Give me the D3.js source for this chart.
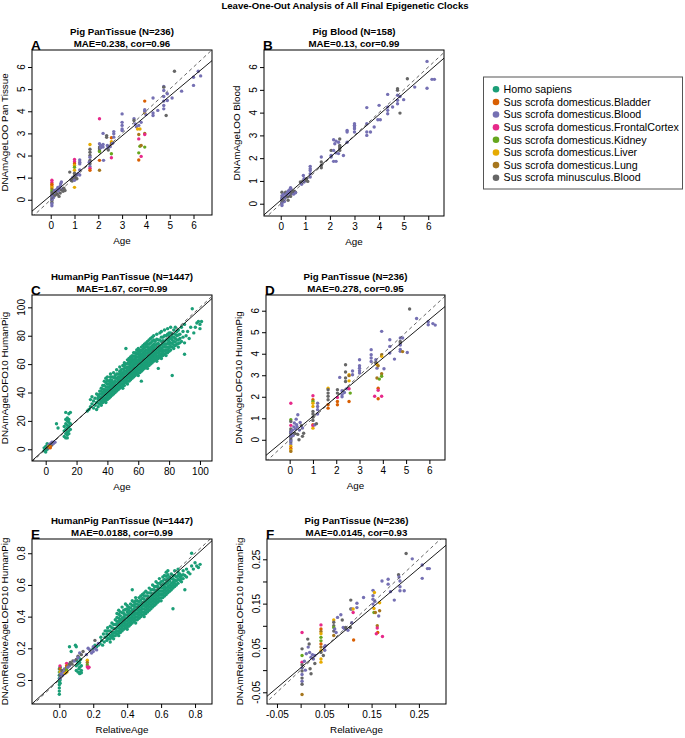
<!DOCTYPE html>
<html><head><meta charset="utf-8">
<script src="https://cdn.jsdelivr.net/npm/d3@7"></script>
<style>
body{margin:0;background:#fff}
svg{display:block}
text{font-family:"Liberation Sans",Arial,Helvetica,sans-serif;fill:#000}
</style>
</head><body>
<svg id="chart" width="685" height="738"></svg>
<script>
// ---------- categories & colours ----------
const categories = ["Homo sapiens","Sus scrofa domesticus.Bladder","Sus scrofa domesticus.Blood",
  "Sus scrofa domesticus.FrontalCortex","Sus scrofa domesticus.Kidney","Sus scrofa domesticus.Liver",
  "Sus scrofa domesticus.Lung","Sus scrofa minusculus.Blood"];
const colors = ["#1B9E77","#D95F02","#7570B3","#E7298A","#66A61E","#E6AB02","#A6761D","#666666"];

// ---------- data: [age, prediction, categoryIndex] ----------
const pointsA = [
[0.05,0.88,3],[0.05,0.78,3],[0.05,0.70,1],[0.05,0.62,1],[0.05,0.55,5],[0.05,0.48,6],[0.05,0.40,4],[0.05,0.32,7],[0.05,0.22,7],[0.05,0.14,7],[0.05,0.05,7],[0.05,-0.04,7],[0.05,-0.12,7],[0.05,0.18,2],[0.05,0.02,2],[0.05,-0.18,2],[0.05,-0.27,2],
[0.12,0.10,2],[0.12,0.28,7],[0.15,0.42,2],[0.18,0.2,7],[0.2,0.32,2],[0.22,0.35,7],[0.25,0.46,2],[0.28,0.25,7],[0.3,0.55,2],[0.32,0.40,2],[0.35,0.50,2],[0.35,0.15,7],[0.4,0.62,2],[0.4,0.30,7],[0.42,0.72,2],[0.45,0.80,2],[0.45,0.45,7],[0.5,0.5,2],[0.52,0.38,7],[0.55,0.52,7],[0.6,0.42,7],
[0.8,1.25,7],[0.85,0.9,7],[0.9,0.85,7],[0.92,1.0,2],[0.95,0.95,7],[1.0,1.82,3],[1.0,1.72,3],[1.0,1.63,1],[1.0,1.55,5],[1.0,1.47,4],[1.0,1.33,5],[1.0,1.2,7],[1.0,1.1,7],[1.0,0.88,2],[1.0,0.56,5],[1.05,1.0,7],[1.1,1.12,2],[1.1,0.95,7],[1.15,1.18,2],[1.22,1.8,2],[1.22,1.7,2],[1.22,1.62,2],[1.22,1.35,2],[1.22,1.12,2],
[1.65,2.5,5],[1.65,2.28,7],[1.65,2.15,7],[1.65,2.0,7],[1.65,1.78,7],[1.65,1.63,7],[1.65,1.5,2],[1.65,1.42,3],[1.65,1.33,1],[1.65,1.92,2],[1.62,1.7,2],
[2.05,3.66,3],[2.05,2.53,2],[2.05,2.38,7],[2.05,2.3,7],[2.05,2.22,7],[2.05,2.18,4],[2.05,1.78,1],[2.05,1.33,6],[2.1,2.45,2],[2.1,2.35,2],
[2.2,3.0,2],[2.2,2.5,2],[2.2,2.38,2],[2.22,1.78,2],[2.35,2.9,7],[2.35,2.82,7],[2.38,2.45,2],[2.4,2.33,2],[2.42,2.25,7],[2.5,2.4,2],[2.55,2.8,1],[2.55,2.62,5],[2.55,2.53,6],[2.55,2.08,4],[2.55,1.9,3],[2.6,2.55,2],[2.65,3.08,2],[2.65,2.98,2],[2.65,2.83,2],
[3.0,3.88,2],[3.0,3.5,2],[3.0,3.36,2],[3.0,3.2,2],[3.0,3.13,2],
[3.5,3.66,2],[3.5,3.58,7],[3.55,3.43,2],[3.6,3.3,2],[3.65,3.2,5],[3.75,3.2,5],[3.7,3.36,2],[3.7,2.95,6],[3.7,2.75,3],[3.75,2.42,4],[3.7,2.12,4],[3.7,1.8,1],[3.8,1.96,3],[3.8,2.45,6],[3.8,3.5,2],
[3.95,4.46,1],[3.95,3.92,5],[3.95,3.0,6],[3.95,2.95,3],[3.95,2.38,4],[3.95,4.07,2],[3.95,4.0,2],[4.0,3.85,2],
[4.3,4.6,2],[4.3,3.92,2],[4.3,3.81,2],[4.5,4.04,2],[4.75,5.12,2],[4.75,5.09,7],[4.75,4.94,2],[4.75,4.67,2],[4.75,4.46,2],[4.75,4.26,2],[4.75,4.11,2],[4.85,3.81,7],[4.9,4.49,2],[4.9,4.79,2],[5.1,4.6,2],[5.2,5.81,7],[5.5,4.91,2],[6.0,5.54,2],[6.0,5.17,2],[6.2,5.81,2],[6.3,5.6,2]
];

const pointsB = [
[0.05,0.5,7],[0.05,0.35,2],[0.05,0.25,7],[0.05,0.2,2],[0.05,0.12,2],[0.05,0.05,7],[0.05,0.0,2],[0.05,-0.08,2],[0.08,0.15,7],[0.1,0.3,2],[0.12,0.42,2],[0.15,0.1,2],[0.18,0.25,2],[0.2,0.5,7],[0.22,0.35,2],[0.25,0.45,2],[0.28,0.3,7],[0.3,0.55,2],[0.3,0.15,7],[0.35,0.6,2],[0.35,0.4,2],[0.38,0.5,2],[0.4,0.7,2],[0.4,0.32,7],[0.42,0.65,2],[0.45,0.45,7],[0.5,0.52,7],[0.52,0.42,2],[0.55,0.55,7],[0.6,0.5,7],[0.6,0.48,2],
[0.8,0.95,7],[0.85,0.85,2],[0.9,1.0,7],[0.92,1.24,2],[0.95,1.1,2],[0.95,0.95,2],[1.0,1.02,2],[1.05,1.02,7],[1.05,1.1,7],[1.1,0.98,7],[1.2,1.64,2],[1.2,1.54,2],[1.2,1.46,2],[1.2,1.32,2],[1.2,1.17,2],
[1.65,2.05,2],[1.65,1.83,7],[1.65,1.68,7],[1.65,1.58,7],[2.05,2.34,7],[2.05,2.12,2],[2.05,2.05,2],[2.15,2.81,2],[2.25,2.75,2],[2.2,2.63,2],[2.15,2.34,2],[2.25,2.23,2],[2.15,1.86,2],[2.25,1.86,2],[2.4,2.84,7],[2.4,2.56,7],[2.4,2.49,7],[2.4,2.42,7],[2.4,2.34,7],[2.35,2.7,2],[2.35,2.2,2],[2.55,2.12,2],[2.7,3.22,2],[2.7,3.15,2],[2.7,2.7,2],
[3.0,3.51,2],[3.0,3.44,2],[3.0,3.37,2],[3.0,3.29,2],[3.0,3.15,2],[3.5,4.22,2],[3.5,3.51,2],[3.5,3.15,2],[3.5,3.0,2],[3.65,3.15,2],[3.8,3.37,2],[4.0,4.32,2],[3.95,3.69,2],[4.05,3.69,2],[4.35,4.8,2],[4.35,4.25,2],[4.35,4.1,2],[4.35,3.95,2],[4.55,4.25,2],[4.75,5.05,7],[4.75,4.98,7],[4.75,4.76,2],[4.75,4.54,2],[4.75,4.39,2],[4.85,3.98,7],[4.85,4.71,2],[5.0,4.57,2],[5.15,5.49,7],[5.45,5.12,2],[5.95,6.25,2],[5.95,5.07,2],[6.15,5.46,2],[6.25,5.46,2]
];

const humanC = [
[-1,1],[0,-1],[0,0],[0,1],[0,2],[1,0],[1,2],[1,3],[1,4],[2,1],[2,3],[-1,-1],[0,-2],
[7,18],[8,15],[12,9],[12,13],[12,16],[13,11],[13,14],[13,18],[13,21],[14,10],[14,12],[14,15],[14,17],[14,20],[14,22],[15,11],[15,13],[15,16],[15,19],[15,21],[15,25],[16,26],[16,18],[16,14],[13,8],[14,8],[13,26],
[27,27],[28,28],[29,30],[29,35],[30,37],[30,32],[31,29],[31,34],[32,31],[32,36],[33,28],[33,33],[33,39],
[34,30],[34,35],[34,38],[35,32],[35,37],[35,41],[36,31],[36,34],[36,39],[36,43],
[37,33],[37,36],[37,40],[37,45],[38,34],[38,38],[38,42],[38,48],[39,33],[39,36],[39,40],[39,44],[39,50],
[40,35],[40,38],[40,42],[40,46],[40,51],[41,36],[41,40],[41,44],[41,48],[42,37],[42,41],[42,45],[42,49],[42,53],
[43,38],[43,42],[43,46],[43,51],[44,39],[44,43],[44,47],[44,54],[45,40],[45,44],[45,48],[45,52],
[46,41],[46,45],[46,50],[46,56],[47,42],[47,46],[47,49],[47,53],[48,43],[48,47],[48,51],[48,55],[48,58],
[49,44],[49,48],[49,52],[49,56],[50,43],[50,46],[50,50],[50,54],[50,59],[51,45],[51,49],[51,53],[51,57],[51,61],
[52,71],[52,47],[52,51],[52,55],[52,60],[53,46],[53,50],[53,54],[53,58],[53,63],[54,48],[54,52],[54,56],[54,60],[54,64],
[55,49],[55,53],[55,57],[55,61],[55,65],[56,50],[56,54],[56,58],[56,62],[56,66],[57,51],[57,55],[57,59],[57,63],[57,68],
[58,52],[58,56],[58,60],[58,64],[58,68],[59,53],[59,57],[59,61],[59,65],[59,70],[60,52],[60,56],[60,60],[60,63],[60,67],[60,71],
[61,54],[61,58],[61,62],[61,66],[61,70],[62,48],[62,55],[62,59],[62,63],[62,67],[62,72],[63,56],[63,60],[63,64],[63,68],[63,73],
[64,57],[64,61],[64,65],[64,69],[64,74],[65,58],[65,62],[65,66],[65,70],[65,75],[66,57],[66,61],[66,64],[66,68],[66,72],[66,76],
[67,59],[67,63],[67,67],[67,71],[67,77],[68,60],[68,64],[68,68],[68,72],[68,78],[69,61],[69,65],[69,69],[69,73],[69,79],
[70,62],[70,66],[70,70],[70,74],[70,80],[71,63],[71,67],[71,71],[71,76],[72,62],[72,66],[72,70],[72,74],[72,81],
[73,57],[73,64],[73,68],[73,72],[73,77],[74,65],[74,69],[74,73],[74,82],[75,64],[75,67],[75,71],[75,76],[75,83],
[76,66],[76,70],[76,74],[76,79],[77,67],[77,72],[77,76],[77,84],[78,66],[78,70],[78,74],[78,80],
[79,68],[79,72],[79,77],[79,85],[80,69],[80,74],[80,78],[80,82],[81,70],[81,75],[81,86],
[82,52],[82,72],[82,77],[82,81],[83,71],[83,76],[83,84],[84,73],[84,78],[84,86],
[85,74],[85,80],[86,72],[86,77],[86,84],[87,75],[87,81],
[88,76],[88,86],[89,79],[89,83],[90,67],[90,75],[90,88],
[91,80],[92,83],[93,78],[94,86],[95,99],[96,82],[97,86],[98,89],[99,90],[100,88],[101,90],[100,85],
// denser core of the cloud
[34,32.5],[34,36.5],[35,34.5],[35,39],[36,32.5],[36,36.5],[36,41],[37,34.5],[37,38],[37,42.5],[38,36],[38,40],[38,45],
[39,34.5],[39,38],[39,42],[39,47],[40,36.5],[40,40],[40,44],[40,48.5],[41,38],[41,42],[41,46],[42,39],[42,43],[42,47],[42,51],
[43,40],[43,44],[43,48.5],[44,41],[44,45],[44,50.5],[45,42],[45,46],[45,50],[46,43],[46,47.5],[46,53],[47,44],[47,47.5],[47,51],
[48,45],[48,49],[48,53],[49,46],[49,50],[49,54],[50,44.5],[50,48],[50,52],[50,56.5],[51,47],[51,51],[51,55],[51,59],
[52,49],[52,53],[52,57.5],[53,48],[53,52],[53,56],[53,60.5],[54,50],[54,54],[54,58],[54,62],[55,51],[55,55],[55,59],[55,63],
[56,52],[56,56],[56,60],[56,64],[57,53],[57,57],[57,61],[57,65.5],[58,54],[58,58],[58,62],[58,66],[59,55],[59,59],[59,63],[59,67.5],
[60,54],[60,58],[60,61.5],[60,65],[60,69],[61,56],[61,60],[61,64],[61,68],[62,57],[62,61],[62,65],[62,69.5],[63,58],[63,62],[63,66],[63,70.5],
[64,59],[64,63],[64,67],[64,71.5],[65,60],[65,64],[65,68],[65,72.5],[66,59],[66,62.5],[66,66],[66,70],[66,74],[67,61],[67,65],[67,69],[67,74],
[68,62],[68,66],[68,70],[68,75],[69,63],[69,67],[69,71],[69,76],[70,64],[70,68],[70,72],[70,77],[71,65],[71,69],[71,73.5],
[72,64],[72,68],[72,72],[72,77.5],[73,66],[73,70],[73,74.5],[74,67],[74,71],[74,77],[75,65.5],[75,69],[75,73.5],[75,79],
[76,68],[76,72],[76,76.5],[77,69.5],[77,74],[77,80],[78,68],[78,72],[78,77],[79,70],[79,74.5],[79,81],[80,71.5],[80,76],[80,80],
[81,72.5],[81,78],[81,82],[82,74.5],[82,79],[83,73.5],[83,79],[84,75.5],[84,81],[85,77],[85,83],[86,74.5],[86,80.5],[87,78]
];
const pigC = [[2,3,2],[3,3,2],[4,4,2],[5,5,2],[4,3,7],[3,2,1],[2,1,3],[1,1,7],[5,4,2],[3,4,2],[6,5,2],[2,2,5],[4,5,2],[3,1,1]];

const pointsD = [
[0.05,1.7,3],[0.05,0.93,4],[0.05,0.85,7],[0.05,0.67,3],[0.05,0.5,7],[0.05,0.4,7],[0.05,0.3,7],[0.05,0.2,7],[0.05,0.1,7],[0.05,0.0,7],[0.05,-0.1,7],[0.05,0.35,2],[0.05,0.15,2],[0.05,-0.05,2],[0.05,-0.2,2],[0.05,-0.3,5],[0.05,-0.4,1],[0.05,-0.47,5],[0.05,-0.54,6],
[0.12,0.45,2],[0.15,0.2,2],[0.18,0.6,2],[0.2,0.78,2],[0.22,0.3,7],[0.25,0.5,2],[0.28,0.96,2],[0.3,0.7,2],[0.32,0.6,2],[0.35,1.16,2],[0.35,0.25,7],[0.4,0.0,7],[0.42,0.45,2],[0.45,0.8,2],[0.5,0.65,7],[0.55,0.16,7],[0.55,0.55,2],[0.6,0.3,7],
[1.0,2.05,3],[1.0,1.86,1],[1.0,1.78,4],[1.0,1.7,5],[1.0,1.55,5],[1.0,1.32,7],[1.0,1.2,7],[1.0,1.05,7],[1.0,0.9,7],[1.0,0.7,1],[1.0,0.65,3],[1.0,0.54,5],[1.08,0.7,2],[1.15,0.75,7],[1.2,1.7,2],[1.2,1.55,2],[1.2,1.4,2],[1.2,1.2,2],
[1.65,2.4,5],[1.65,2.33,7],[1.65,2.17,7],[1.65,2.02,7],[1.65,1.86,7],[1.65,1.63,1],[1.65,1.47,1],
[2.05,2.33,7],[2.05,2.17,7],[2.05,1.97,3],[2.05,1.78,1],[2.05,1.63,1],[2.15,2.9,2],[2.25,2.28,2],[2.25,2.1,2],[2.25,2.0,2],[2.35,2.2,2],[2.4,3.49,7],[2.4,3.15,7],[2.4,2.87,7],[2.4,2.71,7],[2.45,2.37,2],[2.55,3.02,5],[2.55,2.98,6],[2.55,2.74,5],[2.55,2.37,3],[2.6,2.17,4],[2.55,1.78,1],[2.7,3.2,2],[2.7,3.02,2],
[3.0,3.72,2],[3.0,3.44,2],[3.0,3.33,2],[3.0,3.21,2],[3.0,3.1,2],
[3.5,4.19,2],[3.5,3.95,2],[3.5,3.8,2],[3.5,3.64,2],[3.7,3.72,2],[3.7,3.57,2],[3.75,3.33,2],[3.75,3.5,5],[3.8,3.44,6],[3.7,3.6,7],[3.75,2.87,6],[3.85,2.82,4],[3.8,2.4,1],[3.8,2.3,3],[3.65,2.02,3],[3.8,1.91,1],[3.95,2.02,3],[3.95,3.95,6],[3.95,3.88,5],[3.95,3.07,6],[3.95,2.95,4],[3.95,5.04,2],[4.05,3.3,2],
[4.3,4.65,2],[4.3,4.34,2],[4.3,4.03,2],[4.5,3.75,2],[4.75,4.57,7],[4.75,4.5,7],[4.75,4.73,2],[4.75,4.4,2],[4.75,4.2,2],[4.75,4.11,2],[4.85,4.73,2],[4.85,4.1,6],[5.05,4.06,2],[5.15,6.08,7],[5.45,5.64,2],[5.95,5.49,2],[5.95,5.35,2],[6.15,5.4,2],[6.25,5.33,2]
];

const humanE = [
[0,-.09],[0,-.07],[0,-.05],[0,-.03],[0,-.01],[0,.01],[0,.03],[0,.05],[0,.07],[.005,.08],[.005,0],[.005,-.02],[.008,.04],
[.06,.21],[.07,.18],[.095,.22],[.1,.21],[.1,.06],[.1,.09],[.105,.12],[.11,.05],[.11,.1],[.115,.14],[.115,.07],[.12,.04],[.12,.08],[.12,.11],[.125,.05],[.125,.13],[.13,.06],[.13,.09],[.13,.045],[.2,.2],[.21,.22],[.22,.21],[.23,.22],
[.24,.23],[.245,.27],[.25,.25],[.255,.22],[.26,.29],[.265,.24],[.27,.27],[.27,.31],
[.28,.25],[.28,.29],[.285,.33],[.29,.26],[.29,.31],[.3,.24],[.3,.28],[.3,.34],[.31,.27],[.31,.3],[.31,.36],
[.32,.26],[.32,.3],[.32,.35],[.33,.28],[.33,.32],[.33,.38],[.34,.29],[.34,.33],[.34,.37],[.34,.42],[.35,.28],[.35,.31],[.35,.35],[.35,.39],[.35,.44],
[.36,.3],[.36,.34],[.36,.38],[.36,.43],[.37,.31],[.37,.35],[.37,.39],[.37,.46],[.38,.32],[.38,.36],[.38,.4],[.38,.44],[.39,.33],[.39,.37],[.39,.41],[.39,.48],
[.4,.32],[.4,.35],[.4,.39],[.4,.43],[.4,.47],[.41,.34],[.41,.38],[.41,.42],[.41,.46],[.42,.35],[.42,.39],[.42,.43],[.42,.48],[.43,.36],[.43,.4],[.43,.44],[.43,.57],[.43,.5],
[.44,.37],[.44,.41],[.44,.45],[.44,.49],[.45,.36],[.45,.4],[.45,.44],[.45,.48],[.45,.52],[.46,.38],[.46,.42],[.46,.46],[.46,.5],[.47,.39],[.47,.43],[.47,.47],[.47,.52],
[.48,.4],[.48,.44],[.48,.48],[.48,.53],[.49,.41],[.49,.45],[.49,.49],[.49,.54],[.5,.4],[.5,.43],[.5,.47],[.5,.51],[.5,.55],[.51,.42],[.51,.46],[.51,.5],[.51,.56],
[.52,.43],[.52,.47],[.52,.51],[.52,.55],[.53,.44],[.53,.48],[.53,.52],[.53,.58],[.54,.45],[.54,.49],[.54,.53],[.54,.57],[.55,.46],[.55,.5],[.55,.54],[.55,.6],
[.56,.47],[.56,.51],[.56,.55],[.56,.59],[.57,.48],[.57,.52],[.57,.56],[.57,.62],[.58,.49],[.58,.53],[.58,.57],[.58,.61],[.59,.5],[.59,.54],[.59,.58],[.59,.64],
[.6,.5],[.6,.54],[.6,.58],[.6,.62],[.61,.52],[.61,.56],[.61,.6],[.61,.65],[.62,.53],[.62,.57],[.62,.61],[.62,.66],[.63,.54],[.63,.58],[.63,.63],[.63,.68],
[.64,.55],[.64,.59],[.64,.64],[.64,.69],[.65,.56],[.65,.6],[.65,.65],[.66,.57],[.66,.61],[.66,.67],[.67,.45],[.67,.58],[.67,.62],[.67,.66],
[.68,.59],[.68,.63],[.68,.69],[.69,.6],[.69,.65],[.7,.61],[.7,.66],[.7,.7],[.71,.63],[.71,.67],
[.72,.62],[.72,.66],[.73,.64],[.73,.69],[.74,.57],[.74,.66],[.75,.65],[.75,.7],[.76,.68],
[.77,.67],[.78,.8],[.78,.72],[.79,.7],[.8,.74],[.81,.72],[.82,.71],[.83,.73],
// denser core of the cloud
[.28,.27],[.28,.31],[.29,.285],[.3,.26],[.3,.31],[.31,.285],[.31,.33],[.32,.28],[.32,.325],[.33,.3],[.33,.35],[.34,.31],[.34,.35],[.34,.395],
[.35,.295],[.35,.33],[.35,.37],[.35,.415],[.36,.32],[.36,.36],[.36,.405],[.37,.33],[.37,.37],[.37,.425],[.38,.34],[.38,.38],[.38,.42],[.39,.35],[.39,.39],[.39,.445],
[.4,.335],[.4,.37],[.4,.41],[.4,.45],[.41,.36],[.41,.4],[.41,.44],[.42,.37],[.42,.41],[.42,.455],[.43,.38],[.43,.42],[.43,.47],[.44,.39],[.44,.43],[.44,.47],
[.45,.38],[.45,.42],[.45,.46],[.45,.5],[.46,.4],[.46,.44],[.46,.48],[.47,.41],[.47,.45],[.47,.495],[.48,.42],[.48,.46],[.48,.505],[.49,.43],[.49,.47],[.49,.515],
[.5,.415],[.5,.45],[.5,.49],[.5,.53],[.51,.44],[.51,.48],[.51,.53],[.52,.45],[.52,.49],[.52,.53],[.53,.46],[.53,.5],[.53,.55],[.54,.47],[.54,.51],[.54,.55],
[.55,.48],[.55,.52],[.55,.57],[.56,.49],[.56,.53],[.56,.57],[.57,.5],[.57,.54],[.57,.59],[.58,.51],[.58,.55],[.58,.59],[.59,.52],[.59,.56],[.59,.61],
[.6,.52],[.6,.56],[.6,.6],[.61,.54],[.61,.58],[.61,.625],[.62,.55],[.62,.59],[.62,.635],[.63,.56],[.63,.605],[.63,.655],[.64,.57],[.64,.615],[.64,.665],
[.65,.58],[.65,.625],[.66,.59],[.66,.64],[.67,.6],[.67,.64],[.68,.61],[.68,.66],[.69,.625],[.7,.635],[.7,.68],[.71,.65],[.72,.64],[.73,.665]
];
const pigE = [
[.004,.089,3],[.004,.07,1],[.004,.05,5],[.004,.03,7],[.004,.01,2],[.01,.04,2],[.015,.06,7],[.02,.03,2],[.025,.05,2],[.03,.07,2],[.035,.042,5],[.04,.06,7],[.043,.105,3],[.043,.09,1],[.043,.08,6],[.043,.065,4],[.045,.05,5],[.05,.08,2],[.06,.09,2],[.06,.1,7],[.065,.11,7],[.075,.1,7],[.08,.12,7],[.09,.12,2],[.1,.13,7],[.11,.15,7],[.11,.14,2],[.12,.17,2],[.13,.16,7],[.14,.18,7],[.16,.16,2],[.165,.125,5],[.165,.11,6],[.165,.095,4],[.165,.083,3],[.17,.075,3],[.175,.08,3],[.17,.2,2],[.18,.19,2],[.19,.17,2],[.2,.21,2],[.2,.18,2],[.21,.25,7],[.21,.2,2],[.22,.19,2],[.23,.23,2]
];

const pointsF = [
[0.003,0.085,3],[0.003,0.048,7],[0.003,0.033,4],[0.003,0.018,3],[0.003,0.012,7],[0.003,0.005,2],[0.003,-0.002,7],[0.003,-0.01,2],[0.003,-0.018,7],[0.003,-0.025,2],[0.003,-0.032,7],[0.003,-0.055,6],
[0.008,0.02,2],[0.01,0.0,2],[0.012,0.037,2],[0.015,0.07,7],[0.016,0.052,2],[0.018,0.059,7],[0.019,0.04,2],[0.02,0.003,7],[0.022,0.029,2],[0.022,-0.008,7],[0.025,0.035,2],[0.027,0.025,2],[0.03,0.015,7],[0.03,0.033,2],
[0.043,0.102,3],[0.043,0.093,1],[0.043,0.087,6],[0.043,0.082,5],[0.043,0.074,4],[0.043,0.066,4],[0.043,0.059,1],[0.043,0.052,6],[0.043,0.044,5],[0.043,0.04,7],[0.043,0.025,5],[0.043,0.018,5],[0.05,0.052,2],[0.051,0.045,2],[0.052,0.055,2],[0.048,0.033,7],
[0.07,0.113,5],[0.07,0.108,7],[0.07,0.1,7],[0.07,0.096,4],[0.07,0.088,7],[0.07,0.078,6],[0.072,0.093,2],[0.075,0.085,2],[0.078,0.119,2],[0.085,0.125,2],[0.088,0.113,7],[0.09,0.096,2],[0.093,0.093,2],[0.095,0.096,7],[0.1,0.09,2],
[0.106,0.158,7],[0.106,0.138,7],[0.108,0.138,2],[0.111,0.138,5],[0.111,0.13,3],[0.112,0.068,1],[0.108,0.107,2],[0.105,0.096,7],
[0.119,0.151,2],[0.119,0.141,2],[0.133,0.164,2],[0.153,0.18,2],[0.153,0.168,2],[0.153,0.16,2],[0.153,0.149,2],[0.156,0.175,5],[0.155,0.139,5],[0.155,0.13,4],[0.158,0.13,6],[0.157,0.155,2],
[0.162,0.1,6],[0.162,0.095,3],[0.163,0.085,1],[0.16,0.082,3],[0.173,0.076,3],[0.167,0.152,5],[0.167,0.134,6],[0.165,0.122,2],[0.172,0.201,2],[0.185,0.205,2],[0.185,0.194,2],[0.19,0.177,2],[0.198,0.158,2],[0.207,0.215,7],[0.208,0.21,2],[0.21,0.201,2],[0.21,0.188,2],[0.21,0.179,2],[0.219,0.179,2],[0.223,0.263,7],[0.236,0.251,2],[0.257,0.237,2],[0.257,0.207,2],[0.268,0.229,2],[0.272,0.229,2]
];

// tick values & labels
const ticksAge = [0,1,2,3,4,5,6];
const ticksAgeLabels = ["0","1","2","3","4","5","6"];
const ticksHuman = [0,20,40,60,80,100];
const ticksHumanLabels = ["0","20","40","60","80","100"];
const ticksRel = [0,0.2,0.4,0.6,0.8];
const ticksRelLabels = ["0.0","0.2","0.4","0.6","0.8"];
const ticksRelPig = [-0.05,0,0.05,0.1,0.15,0.2,0.25];
const ticksRelPigLabels = ["-0.05","","0.05","","0.15","","0.25"];

// fitted regression lines [intercept, slope]
const fitA = [0.19,0.90], fitB = [0.15,0.94], fitC = [0.6,0.98], fitD = [0.19,0.90], fitE = [0.006,0.97], fitF = [0.005,0.90];

// ---------- layout ----------
const panels = [
 {id:"A", title:"Pig PanTissue (N=236)", stats:"MAE=0.238, cor=0.96", xlab:"Age", ylab:"DNAmAgeLOO Pan Tissue",
  box:[32,50,212,215], xdom:[-0.786,6.777], ydom:[-0.69,6.77], xt:ticksAge, xtl:ticksAgeLabels, yt:ticksAge, ytl:ticksAgeLabels, fit:fitA, pts:pointsA},
 {id:"B", title:"Pig Blood (N=158)", stats:"MAE=0.13, cor=0.99", xlab:"Age", ylab:"DNAmAgeLOO Blood",
  box:[264,50,444,216], xdom:[-0.68,6.64], ydom:[-0.54,6.75], xt:ticksAge, xtl:ticksAgeLabels, yt:ticksAge, ytl:ticksAgeLabels, fit:fitB, pts:pointsB},
 {id:"C", title:"HumanPig PanTissue (N=1447)", stats:"MAE=1.67, cor=0.99", xlab:"Age", ylab:"DNAmAgeLOFO10 HumanPig",
  box:[32,295,212,461], xdom:[-8.88,107.8], ydom:[-8.26,108.7], xt:ticksHuman, xtl:ticksHumanLabels, yt:ticksHuman, ytl:ticksHumanLabels, fit:fitC,
  pts:humanC.map(d=>[d[0],d[1],0]).concat(pigC)},
 {id:"D", title:"Pig PanTissue (N=236)", stats:"MAE=0.278, cor=0.95", xlab:"Age", ylab:"DNAmAgeLOFO10 HumanPig",
  box:[266,295,445,460], xdom:[-1.016,6.67], ydom:[-0.94,6.73], xt:ticksAge, xtl:ticksAgeLabels, yt:ticksAge, ytl:ticksAgeLabels, fit:fitD, pts:pointsD},
 {id:"E", title:"HumanPig PanTissue (N=1447)", stats:"MAE=0.0188, cor=0.99", xlab:"RelativeAge", ylab:"DNAmRelativeAgeLOFO10 HumanPig",
  box:[32,539,212,704], xdom:[-0.161,0.9], ydom:[-0.1515,0.89], xt:ticksRel, xtl:ticksRelLabels, yt:ticksRel, ytl:ticksRelLabels, fit:fitE,
  pts:humanE.map(d=>[d[0],d[1],0]).concat(pigE)},
 {id:"F", title:"Pig PanTissue (N=236)", stats:"MAE=0.0145, cor=0.93", xlab:"RelativeAge", ylab:"DNAmRelativeAgeLOFO10 HumanPig",
  box:[267,539,446,704], xdom:[-0.0711,0.3073], ydom:[-0.0764,0.2958], xt:ticksRelPig, xtl:ticksRelPigLabels, yt:ticksRelPig, ytl:ticksRelPigLabels, fit:fitF, pts:pointsF}
];

const svg = d3.select("#chart");
svg.append("rect").attr("width",685).attr("height",738).attr("fill","#fff");
svg.append("text").attr("x",345).attr("y",9).attr("text-anchor","middle")
  .attr("font-size",9.6).attr("font-weight","bold").text("Leave-One-Out Analysis of All Final Epigenetic Clocks");

const defs = svg.append("defs");

panels.forEach(p=>{
  const [x0,y0,x1,y1] = p.box;
  const x = d3.scaleLinear().domain(p.xdom).range([x0,x1]);
  const y = d3.scaleLinear().domain(p.ydom).range([y1,y0]);
  const g = svg.append("g");
  defs.append("clipPath").attr("id","clip"+p.id).append("rect")
     .attr("x",x0).attr("y",y0).attr("width",x1-x0).attr("height",y1-y0);
  const plot = g.append("g").attr("clip-path",`url(#clip${p.id})`);
  plot.selectAll("circle").data(p.pts).join("circle")
     .attr("cx",d=>x(d[0])).attr("cy",d=>y(d[1])).attr("r",1.7)
     .attr("fill",d=>colors[d[2]]);
  const lo = Math.min(p.xdom[0],p.ydom[0]), hi = Math.max(p.xdom[1],p.ydom[1]);
  plot.append("line").attr("x1",x(lo)).attr("y1",y(lo)).attr("x2",x(hi)).attr("y2",y(hi))
     .attr("stroke","#555").attr("stroke-width",0.9).attr("stroke-dasharray","3.5,3");
  plot.append("line").attr("x1",x(lo)).attr("y1",y(p.fit[0]+p.fit[1]*lo))
     .attr("x2",x(hi)).attr("y2",y(p.fit[0]+p.fit[1]*hi))
     .attr("stroke","#000").attr("stroke-width",0.9);
  g.append("rect").attr("x",x0).attr("y",y0).attr("width",x1-x0).attr("height",y1-y0)
     .attr("fill","none").attr("stroke","#000").attr("stroke-width",1);

  // x axis
  const xa = g.append("g").attr("transform",`translate(0,${y1})`)
     .call(d3.axisBottom(x).tickValues(p.xt).tickSize(4).tickSizeOuter(0).tickPadding(2.5)
       .tickFormat((d,i)=>p.xtl[i]));
  xa.select(".domain").remove();
  xa.selectAll("text").attr("font-size",10).attr("font-family","Liberation Sans, Arial, sans-serif").attr("fill","#000");
  xa.selectAll("line").attr("stroke","#000");
  // y axis (ticks) + rotated labels
  const ya = g.append("g").attr("transform",`translate(${x0},0)`)
     .call(d3.axisLeft(y).tickValues(p.yt).tickSize(4).tickSizeOuter(0).tickFormat(""));
  ya.select(".domain").remove();
  ya.selectAll("line").attr("stroke","#000");
  g.selectAll("text.ytl").data(p.yt).join("text").attr("class","ytl")
     .attr("transform",d=>`translate(${x0-11},${y(d)}) rotate(-90)`)
     .attr("dy","0.36em").attr("text-anchor","middle").attr("font-size",10)
     .text((d,i)=>p.ytl[i]);

  // axis titles
  g.append("text").attr("x",(x0+x1)/2).attr("y",y1+26).attr("dy","0.35em")
     .attr("text-anchor","middle").attr("font-size",9.8).text(p.xlab);
  g.append("text").attr("transform",`translate(${x0-27},${(y0+y1)/2}) rotate(-90)`)
     .attr("dy","0.35em").attr("text-anchor","middle").attr("font-size",9.8).text(p.ylab);

  // titles
  g.append("text").attr("x",(x0+x1)/2).attr("y",y0-18).attr("dy","0.35em")
     .attr("text-anchor","middle").attr("font-size",9.7).attr("font-weight","bold").text(p.title);
  g.append("text").attr("x",(x0+x1)/2).attr("y",y0-6).attr("dy","0.35em")
     .attr("text-anchor","middle").attr("font-size",9.7).attr("font-weight","bold").text(p.stats);
  g.append("text").attr("x",x0-1).attr("y",y0-0.5)
     .attr("font-size",13.5).attr("font-weight","bold").text(p.id);
});

// legend
const lg = svg.append("g");
lg.append("rect").attr("x",483.5).attr("y",77).attr("width",199).attr("height",112)
  .attr("fill","#fff").attr("stroke","#555").attr("stroke-width",1);
lg.selectAll("g.item").data(categories).join("g").attr("class","item")
  .attr("transform",(d,i)=>`translate(496,${89.3+i*12.63})`)
  .each(function(d,i){
    const s = d3.select(this);
    s.append("circle").attr("r",3.3).attr("fill",colors[i]);
    s.append("text").attr("x",7.5).attr("dy","0.35em").attr("font-size",10.7).text(d);
  });
</script>
</body></html>
